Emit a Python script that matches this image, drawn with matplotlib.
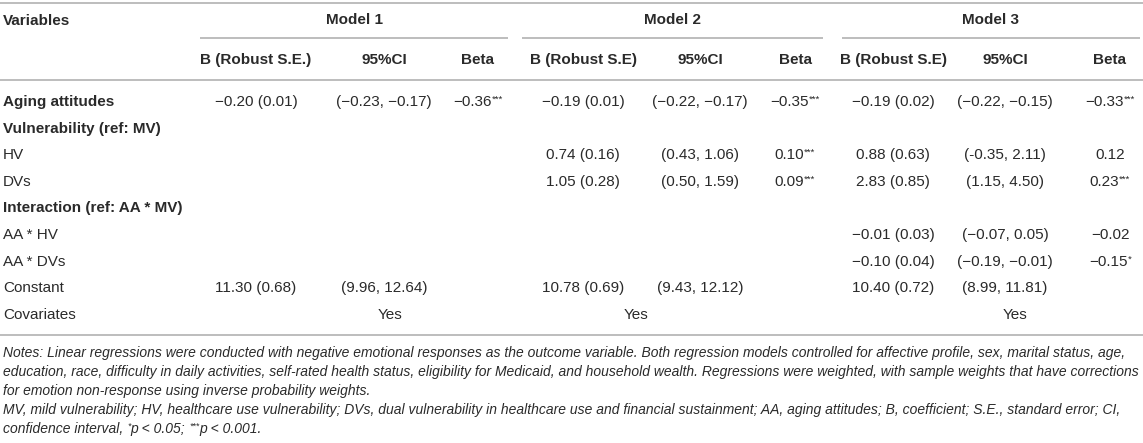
import matplotlib
matplotlib.use("Agg")
import matplotlib.pyplot as plt
from matplotlib.offsetbox import TextArea, HPacker, AnnotationBbox

plt.rcParams['font.family'] = ['Liberation Sans', 'DejaVu Sans']

# table content
row_labels = ["Aging attitudes", "Vulnerability (ref: MV)", "HV", "DVs",
              "Interaction (ref: AA * MV)", "AA * HV", "AA * DVs",
              "Constant", "Covariates"]
bold_rows = [0, 1, 4]
models = ["Model 1", "Model 2", "Model 3"]
sub_headers = ["B (Robust S.E.)", "95%CI", "Beta",
               "B (Robust S.E)", "95%CI", "Beta",
               "B (Robust S.E)", "95%CI", "Beta"]

m1_b = ["\u22120.20 (0.01)", "", "", "", "", "", "", "11.30 (0.68)"]
m1_ci = ["(\u22120.23, \u22120.17)", "", "", "", "", "", "", "(9.96, 12.64)"]
m1_beta = [("\u22120.36", "***"), None, None, None, None, None, None, None]

m2_b = ["\u22120.19 (0.01)", "", "0.74 (0.16)", "1.05 (0.28)", "", "", "", "10.78 (0.69)"]
m2_ci = ["(\u22120.22, \u22120.17)", "", "(0.43, 1.06)", "(0.50, 1.59)", "", "", "", "(9.43, 12.12)"]
m2_beta = [("\u22120.35", "***"), None, ("0.10", "***"), ("0.09", "***"), None, None, None, None]

m3_b = ["\u22120.19 (0.02)", "", "0.88 (0.63)", "2.83 (0.85)", "",
        "\u22120.01 (0.03)", "\u22120.10 (0.04)", "10.40 (0.72)"]
m3_ci = ["(\u22120.22, \u22120.15)", "", "(-0.35, 2.11)", "(1.15, 4.50)", "",
         "(\u22120.07, 0.05)", "(\u22120.19, \u22120.01)", "(8.99, 11.81)"]
m3_beta = [("\u22120.33", "***"), None, ("0.12", ""), ("0.23", "***"), None,
           ("\u22120.02", ""), ("\u22120.15", "*"), None]

covariates = ["Yes", "Yes", "Yes"]

notes = [
    "Notes: Linear regressions were conducted with negative emotional responses as the outcome variable. "
    "Both regression models controlled for affective profile, sex, marital status, age,",
    "education, race, difficulty in daily activities, self-rated health status, eligibility for Medicaid, "
    "and household wealth. Regressions were weighted, with sample weights that have corrections",
    "for emotion non-response using inverse probability weights.",
    "MV, mild vulnerability; HV, healthcare use vulnerability; DVs, dual vulnerability in healthcare use "
    "and financial sustainment; AA, aging attitudes; B, coefficient; S.E., standard error; CI,",
]
last_note = [("confidence interval, ", ""), ("p < 0.05; ", "*"), ("p < 0.001.", "***")]

# layout (pixels)
W, H = 1143, 443
txt = "#2a2a2a"
rule = "#bdbdbd"
fs = 11
fs_note = 10.0
col_x = [256, 384, 478, 583, 700, 795, 893, 1005, 1110]
spans = [(200, 508), (522, 823), (842, 1140)]
yes_x = [390, 636, 1015]
row_y0, row_dy = 102, 26.6
note_y0, note_dy = 353, 19

fig = plt.figure(figsize=(W / 100, H / 100), dpi=100)
ax = fig.add_axes([0, 0, 1, 1])
ax.set_xlim(0, W)
ax.set_ylim(H, 0)
ax.axis("off")

# rules
ax.hlines([3, 80, 335], 0, W, color=rule, lw=1.4)
for x0, x1 in spans:
    ax.hlines(38, x0, x1, color=rule, lw=1.4)

# headers
ax.text(3, 21, "Variables", fontsize=fs, fontweight="bold", color=txt, va="center")
for name, (x0, x1) in zip(models, spans):
    ax.text((x0 + x1) / 2, 20, name, fontsize=fs, fontweight="bold", color=txt,
            ha="center", va="center")
for x, h in zip(col_x, sub_headers):
    ax.text(x, 60, h, fontsize=fs, fontweight="bold", color=txt, ha="center", va="center")

# row labels
for i, lab in enumerate(row_labels):
    ax.text(3, row_y0 + i * row_dy, lab, fontsize=fs, color=txt, va="center",
            fontweight="bold" if i in bold_rows else "normal")


def star_cell(x, y, num, stars):
    parts = [TextArea(num, textprops=dict(fontsize=fs, color=txt))]
    if stars:
        parts.append(TextArea(stars, textprops=dict(fontsize=fs * 0.62, color=txt)))
    box = HPacker(children=parts, align="top", pad=0, sep=0)
    ab = AnnotationBbox(box, (x, y), frameon=False, pad=0,
                        box_alignment=(0.5, 0.5))
    ax.add_artist(ab)


cols = [m1_b, m1_ci, m1_beta, m2_b, m2_ci, m2_beta, m3_b, m3_ci, m3_beta]
for j, col in enumerate(cols):
    for i, v in enumerate(col):
        y = row_y0 + i * row_dy
        if j % 3 == 2:
            if v is not None:
                star_cell(col_x[j], y, v[0], v[1])
        elif v:
            ax.text(col_x[j], y, v, fontsize=fs, color=txt, ha="center", va="center")

for x, v in zip(yes_x, covariates):
    ax.text(x, row_y0 + 8 * row_dy, v, fontsize=fs, color=txt, ha="center", va="center")

# notes
for k, line in enumerate(notes):
    ax.text(3, note_y0 + k * note_dy, line, fontsize=fs_note, style="italic",
            color=txt, va="center")

parts = []
for body, sup in last_note:
    if sup:
        parts.append(TextArea(sup, textprops=dict(fontsize=fs_note * 0.62, color=txt, style="italic")))
    parts.append(TextArea(body, textprops=dict(fontsize=fs_note, color=txt, style="italic")))
box = HPacker(children=parts, align="top", pad=0, sep=0)
ax.add_artist(AnnotationBbox(box, (3, note_y0 + 4 * note_dy), frameon=False, pad=0,
                             box_alignment=(0, 0.5)))

fig.savefig("out.png", dpi=100)
